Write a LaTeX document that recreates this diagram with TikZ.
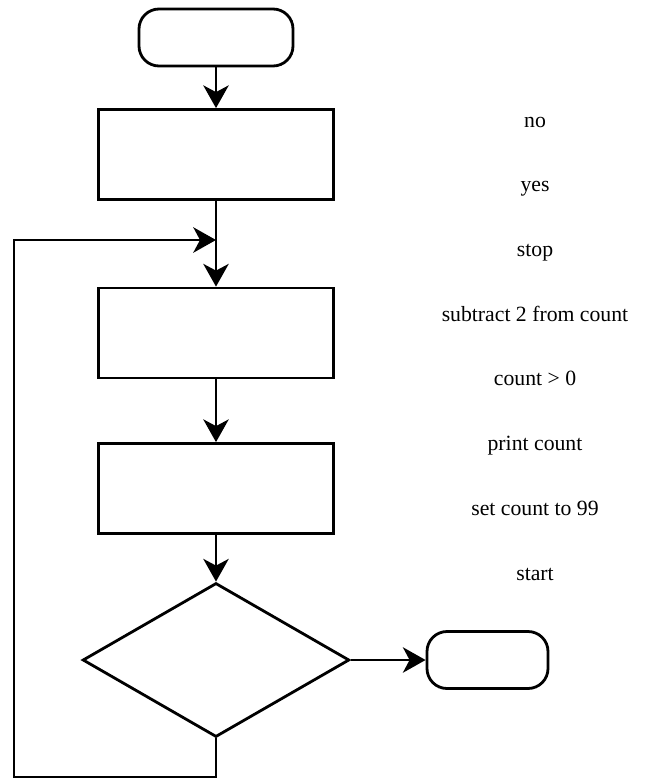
\documentclass[tikz,border=0pt]{standalone}
\usepackage{fontspec}
\setmainfont{Liberation Serif}
\usetikzlibrary{shapes.geometric,arrows.meta}

\tikzset{
  flow/.style={line width=2.1pt},
  arrow/.style={flow, -{Stealth[length=17pt,width=19pt,inset=5pt]}},
  terminal/.style={draw, flow, rounded corners=15pt, minimum height=42.75pt, inner sep=0pt},
  process/.style={draw, flow, minimum width=176pt, minimum height=67.5pt, inner sep=0pt},
  decision/.style={draw, flow, diamond, minimum width=200pt, minimum height=115.5pt, inner sep=0pt},
  word/.style={anchor=base, font=\fontsize{16.3}{19}\selectfont}
}

\begin{document}
      \begin{tikzpicture}[x=0.75pt, y=-0.75pt]
        \useasboundingbox (0,0) rectangle (644,778);

        % the flowchart, boxes left empty
        \node[terminal, minimum width=115.5pt] (start) at (216,37.5) {};
        \node[process] (setbox) at (216,154.5) {};
        \node[process] (printbox) at (216,333) {};
        \node[process] (subbox) at (216,488.5) {};
        \node[decision] (test) at (216,660) {};
        \node[terminal, minimum width=90.75pt] (stop) at (487.5,660) {};

        \coordinate (merge) at (216,240);
        \coordinate (loopbot) at (216,777);
        \coordinate (loopleft) at (14,777);

        \draw[arrow] (start) -- (setbox);
        \draw[arrow] (setbox) -- (printbox);
        \draw[arrow] (printbox) -- (subbox);
        \draw[arrow] (subbox) -- (test);
        \draw[arrow] (test.east) -- (stop.west);
        \draw[arrow] (test.south) -- (loopbot) -- (loopleft) |- (merge);

        % words to put in the boxes
        \node[word] (wno) at (535,127) {no};
        \node[word] (wyes) at (535,191.7) {yes};
        \node[word] (wstop) at (535,256.4) {stop};
        \node[word] (wsub) at (535,321) {subtract 2 from count};
        \node[word] (wtest) at (535,385.8) {count > 0};
        \node[word] (wprint) at (535,450.5) {print count};
        \node[word] (wset) at (535,515) {set count to 99};
        \node[word] (wstart) at (535,580) {start};
      \end{tikzpicture}
\end{document}
